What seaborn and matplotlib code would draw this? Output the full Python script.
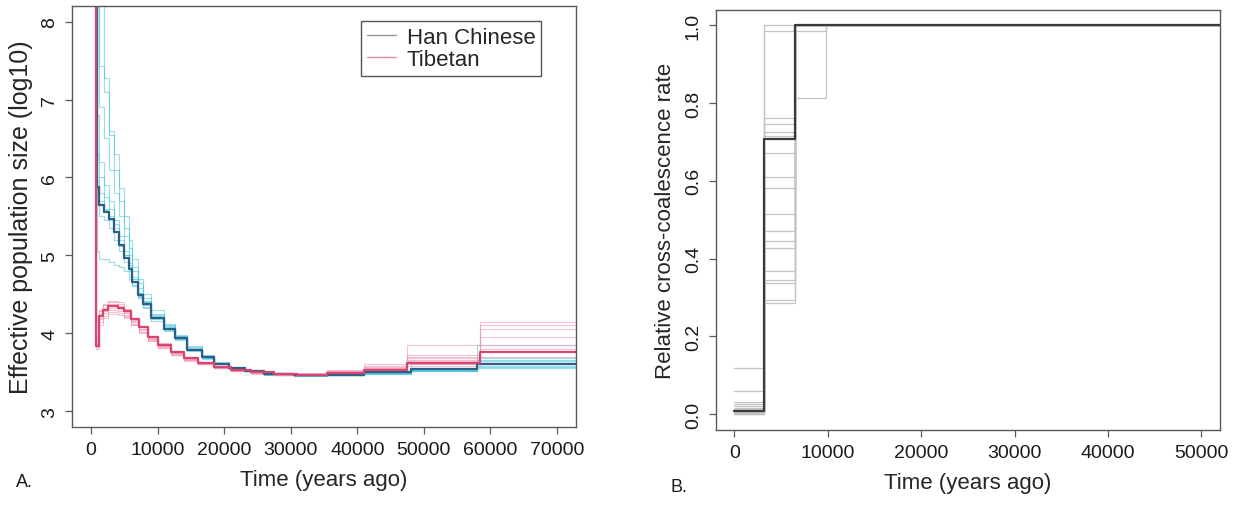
import matplotlib
matplotlib.use("Agg")
import matplotlib.pyplot as plt
from matplotlib.lines import Line2D
import numpy as np
import pandas as pd
import seaborn as sns

sns.set_style("ticks")
plt.rcParams['font.family'] = ['Liberation Sans', 'DejaVu Sans']

# ---- panel A: effective population size (log10), step curves ----
han_t = [300, 950, 1200, 1900, 2700, 3400, 4200, 4900, 5700, 6200, 7000, 7800, 9000,
         10900, 12600, 14400, 16600, 18500, 20700, 23200, 26000, 30500, 35500, 41000,
         48000, 58000, 72800]
han_main = [9.0, 5.88, 5.64, 5.56, 5.47, 5.30, 5.13, 4.96, 4.83, 4.66, 4.49, 4.38, 4.19,
            4.06, 3.94, 3.79, 3.69, 3.61, 3.55, 3.52, 3.48, 3.46, 3.47, 3.50, 3.54, 3.60, 3.60]
han_boot = [
    [9.0, 9.0, 7.43, 7.27, 6.54, 6.09, 5.86, 5.50, 5.20, 4.95, 4.70, 4.50, 4.30, 4.12, 3.98, 3.84, 3.72, 3.63, 3.57, 3.53, 3.49, 3.47, 3.47, 3.49, 3.52, 3.57, 3.57],
    [9.0, 9.0, 9.0, 7.10, 6.60, 6.30, 5.70, 5.35, 5.10, 4.85, 4.65, 4.45, 4.25, 4.10, 3.96, 3.81, 3.70, 3.62, 3.56, 3.52, 3.48, 3.45, 3.46, 3.48, 3.51, 3.56, 3.56],
    [9.0, 6.80, 6.20, 5.90, 5.70, 5.45, 5.25, 5.05, 4.90, 4.72, 4.52, 4.40, 4.22, 4.08, 3.95, 3.80, 3.69, 3.61, 3.56, 3.52, 3.48, 3.46, 3.46, 3.49, 3.53, 3.62, 3.62],
    [9.0, 5.06, 4.95, 4.95, 4.91, 4.88, 4.85, 4.80, 4.70, 4.60, 4.45, 4.33, 4.20, 4.05, 3.93, 3.78, 3.68, 3.60, 3.55, 3.51, 3.47, 3.45, 3.46, 3.49, 3.53, 3.66, 3.66],
    [9.0, 6.30, 6.00, 5.75, 5.60, 5.40, 5.20, 5.00, 4.85, 4.70, 4.50, 4.36, 4.18, 4.04, 3.92, 3.78, 3.68, 3.60, 3.54, 3.51, 3.47, 3.45, 3.46, 3.50, 3.55, 3.64, 3.64],
    [9.0, 5.75, 5.50, 5.45, 5.35, 5.20, 5.05, 4.92, 4.80, 4.62, 4.46, 4.34, 4.16, 4.03, 3.91, 3.77, 3.67, 3.60, 3.55, 3.52, 3.48, 3.46, 3.47, 3.51, 3.55, 3.68, 3.68],
    [9.0, 9.0, 6.90, 6.50, 6.10, 5.80, 5.50, 5.25, 5.00, 4.80, 4.58, 4.42, 4.24, 4.09, 3.96, 3.82, 3.71, 3.62, 3.56, 3.52, 3.48, 3.46, 3.46, 3.48, 3.52, 3.58, 3.58],
    [9.0, 6.00, 5.80, 5.60, 5.50, 5.35, 5.15, 5.00, 4.88, 4.70, 4.52, 4.40, 4.21, 4.07, 3.95, 3.80, 3.70, 3.62, 3.56, 3.53, 3.49, 3.47, 3.47, 3.50, 3.54, 3.62, 3.62],
    [9.0, 5.95, 5.70, 5.58, 5.45, 5.30, 5.12, 4.96, 4.82, 4.66, 4.48, 4.37, 4.19, 4.06, 3.94, 3.79, 3.69, 3.61, 3.55, 3.52, 3.48, 3.46, 3.48, 3.52, 3.60, 3.85, 3.85],
]

tib_t = [300, 700, 1200, 1800, 2500, 4000, 5000, 6000, 7200, 8500, 10000, 12000, 14000,
         16000, 18500, 21000, 24000, 27500, 31000, 35500, 41000, 47500, 58500, 72800]
tib_main = [9.0, 3.84, 4.22, 4.30, 4.35, 4.32, 4.28, 4.18, 4.08, 3.95, 3.85, 3.76, 3.68,
            3.62, 3.57, 3.53, 3.50, 3.48, 3.47, 3.49, 3.53, 3.62, 3.76, 3.76]
tib_boot = [
    [9.0, 3.82, 4.18, 4.26, 4.30, 4.28, 4.22, 4.12, 4.02, 3.91, 3.82, 3.73, 3.66, 3.60, 3.55, 3.51, 3.49, 3.47, 3.47, 3.50, 3.55, 3.66, 4.15, 4.15],
    [9.0, 3.90, 4.28, 4.36, 4.40, 4.37, 4.29, 4.19, 4.08, 3.96, 3.86, 3.76, 3.68, 3.62, 3.57, 3.53, 3.50, 3.48, 3.48, 3.51, 3.60, 3.85, 4.05, 4.05],
    [9.0, 3.95, 4.10, 4.20, 4.25, 4.24, 4.20, 4.10, 4.00, 3.90, 3.81, 3.72, 3.65, 3.60, 3.55, 3.52, 3.49, 3.47, 3.46, 3.48, 3.52, 3.58, 3.62, 3.62],
    [9.0, 3.86, 4.25, 4.33, 4.38, 4.35, 4.27, 4.17, 4.06, 3.94, 3.84, 3.75, 3.67, 3.61, 3.56, 3.52, 3.49, 3.47, 3.48, 3.52, 3.58, 3.72, 3.95, 3.95],
    [9.0, 3.80, 4.20, 4.29, 4.33, 4.31, 4.24, 4.14, 4.04, 3.92, 3.83, 3.74, 3.67, 3.61, 3.56, 3.52, 3.49, 3.47, 3.47, 3.49, 3.54, 3.64, 3.85, 3.85],
    [9.0, 3.88, 4.30, 4.38, 4.42, 4.40, 4.31, 4.20, 4.09, 3.97, 3.87, 3.77, 3.69, 3.63, 3.58, 3.54, 3.51, 3.49, 3.49, 3.53, 3.56, 3.70, 4.10, 4.10],
    [9.0, 3.84, 4.15, 4.22, 4.27, 4.26, 4.21, 4.11, 4.01, 3.90, 3.81, 3.72, 3.66, 3.60, 3.55, 3.51, 3.48, 3.46, 3.46, 3.48, 3.51, 3.60, 3.70, 3.70],
    [9.0, 3.83, 4.23, 4.31, 4.36, 4.33, 4.26, 4.16, 4.05, 3.93, 3.83, 3.74, 3.67, 3.61, 3.56, 3.52, 3.49, 3.47, 3.47, 3.50, 3.57, 3.68, 3.80, 3.80],
]

# ---- panel B: relative cross-coalescence rate ----
ccr_t = [0, 3200, 6480, 9850, 52000]
ccr_main = [0.007, 0.707, 1.0, 1.0, 1.0]
ccr_seg1 = [0.000, 0.002, 0.005, 0.010, 0.021, 0.030, 0.060, 0.119, 0.003,
            0.008, 0.000, 0.012, 0.004, 0.025, 0.001, 0.006, 0.015, 0.002]
ccr_seg2 = [0.287, 0.293, 0.338, 0.344, 0.368, 0.427, 0.444, 0.470, 0.515,
            0.581, 0.611, 0.672, 0.716, 0.725, 0.746, 0.761, 0.985, 1.000]
ccr_seg3 = [0.812, 1.0, 1.0, 1.0, 1.0, 1.0, 1.0, 1.0, 1.0,
            1.0, 1.0, 1.0, 1.0, 1.0, 1.0, 1.0, 0.985, 1.0]


def long_frame(times, reps):
    rows = []
    for i, vals in enumerate(reps):
        for t, v in zip(times, vals):
            rows.append((t, v, i))
    return pd.DataFrame(rows, columns=["t", "v", "rep"])


han_df = long_frame(han_t, han_boot)
tib_df = long_frame(tib_t, tib_boot)
ccr_df = long_frame(ccr_t, [[a, b, c, 1.0, 1.0] for a, b, c in zip(ccr_seg1, ccr_seg2, ccr_seg3)])

fig = plt.figure(figsize=(12.41, 5.06), dpi=100)
ax1 = fig.add_axes([0.0583, 0.1547, 0.4056, 0.8314])
ax2 = fig.add_axes([0.5767, 0.1488, 0.4064, 0.8300])

frame_col = "#5a5a5a"
for ax in (ax1, ax2):
    for s in ax.spines.values():
        s.set_color(frame_col)
        s.set_linewidth(1.0)
    ax.tick_params(colors=frame_col, labelcolor="#1a1a1a", labelsize=14,
                   length=5, width=0.9, direction="out", pad=5)

# panel A
step = dict(drawstyle="steps-post", sort=False, estimator=None, legend=False)
sns.lineplot(data=han_df, x="t", y="v", units="rep", color="#45c2da", lw=0.8, alpha=0.55, ax=ax1, **step)
sns.lineplot(data=tib_df, x="t", y="v", units="rep", color="#ee9ab4", lw=0.8, alpha=0.6, ax=ax1, **step)
sns.lineplot(x=han_t, y=han_main, color="#2d5f86", lw=1.6, ax=ax1, **step)
sns.lineplot(x=tib_t, y=tib_main, color="#d9456f", lw=1.6, ax=ax1, **step)

ax1.set_xlim(-2800, 72800)
ax1.set_ylim(2.8, 8.2)
ax1.set_xticks(np.arange(0, 70001, 10000))
ax1.set_yticks([3, 4, 5, 6, 7, 8])
ax1.set_xlabel("Time (years ago)", fontsize=16, labelpad=8)
ax1.set_ylabel("Effective population size (log10)", fontsize=18, labelpad=6)

handles = [Line2D([], [], color="#9a9a9a", lw=1.0), Line2D([], [], color="#e88aa6", lw=1.0)]
ax1.legend(handles, ["Han Chinese", "Tibetan"], loc="upper right", bbox_to_anchor=(0.953, 0.99),
           fontsize=16, frameon=True, fancybox=False, edgecolor="#555555", framealpha=1,
           handlelength=1.3, handletextpad=0.5, borderpad=0.25, labelspacing=0.05)

# panel B
sns.lineplot(data=ccr_df, x="t", y="v", units="rep", color="#c4c4c4", lw=0.9, ax=ax2, **step)
sns.lineplot(x=ccr_t, y=ccr_main, color="#3a3a3a", lw=1.6, ax=ax2, **step)

ax2.set_xlim(-2000, 52000)
ax2.set_ylim(-0.04, 1.04)
ax2.set_xticks(np.arange(0, 50001, 10000))
ax2.set_yticks([0.0, 0.2, 0.4, 0.6, 0.8, 1.0])
ax2.set_yticklabels(["0.0", "0.2", "0.4", "0.6", "0.8", "1.0"])
ax2.set_xlabel("Time (years ago)", fontsize=16, labelpad=8)
ax2.set_ylabel("Relative cross-coalescence rate", fontsize=16, labelpad=6)

for ax in (ax1, ax2):
    for lab in ax.get_yticklabels():
        lab.set_va("center")
        lab.set_rotation(90)

fig.text(0.013, 0.038, "A.", fontsize=13, color="#1a1a1a")
fig.text(0.540, 0.028, "B.", fontsize=13, color="#1a1a1a")

fig.savefig("out.png", dpi=100)
